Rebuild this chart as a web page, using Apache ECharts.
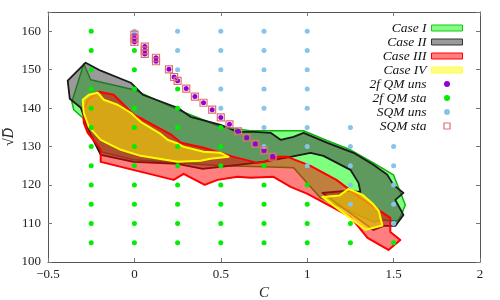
<!DOCTYPE html>
<html><head><meta charset="utf-8">
<script src="https://cdn.jsdelivr.net/npm/echarts@6/dist/echarts.min.js"></script>
<style>html,body{margin:0;padding:0;background:#fff}#c{width:500px;height:300px}</style>
</head><body><div id="c"></div>
<script>
// ---- data (C, sqrt(D)) ----
const caseI = [[
  [-0.362,141.67],[-0.293,151.56],[-0.253,147.40],[-0.004,144.80],[0.250,139.60],[0.499,135.16],
  [0.672,134.11],[0.979,134.11],[1.117,131.51],[1.250,129.17],[1.383,125.78],[1.499,122.66],
  [1.568,114.84],[1.539,111.72],[1.522,110.68],[1.441,110.94],[1.383,110.42],[1.077,116.67],
  [0.921,124.48],[0.747,124.74],[0.499,125.00],[0.250,125.78],[-0.004,126.56],[-0.195,128.65],
  [-0.270,134.38],[-0.299,137.50],[-0.351,139.58]
]];
const caseII = [[
  [-0.386,147.14],[-0.282,151.82],[-0.195,149.74],[-0.021,146.61],[0.048,143.49],[0.250,140.10],
  [0.325,137.76],[0.499,135.68],[0.597,133.85],[0.690,133.85],[0.788,133.59],[0.846,131.77],
  [0.921,132.55],[0.979,133.59],[1.117,130.99],[1.268,128.39],[1.383,125.26],[1.464,122.66],
  [1.499,120.05],[1.557,117.97],[1.510,116.15],[1.557,112.24],[1.510,109.38],[1.441,109.38],
  [1.383,108.33],[1.088,117.97],[1.222,118.50],[1.308,118.23],[1.297,120.57],[1.250,123.96],
  [1.094,127.60],[1.019,128.39],[0.904,127.34],[0.747,126.04],[0.499,124.74],[0.395,124.22],
  [0.250,125.52],[-0.004,126.04],[-0.195,127.86],[-0.253,133.07],[-0.270,134.90],[-0.310,140.10],
  [-0.374,142.45]
]];
const caseIII = [[
  [-0.206,144.27],[-0.120,143.49],[-0.091,142.19],[-0.004,138.28],[0.054,136.98],[0.210,133.20],
  [0.270,131.00],[0.401,129.69],[0.574,127.34],[0.713,125.78],[0.747,126.04],[0.829,127.34],
  [0.886,127.34],[1.019,125.00],[1.169,121.35],[1.308,116.67],[1.481,111.46],[1.481,107.81],
  [1.539,105.73],[1.470,103.13],[1.349,106.25],[1.250,111.72],[1.002,117.71],[0.904,119.53],
  [0.805,122.14],[0.672,121.88],[0.597,122.14],[0.481,121.35],[0.407,120.05],[0.285,122.92],
  [0.227,121.35],[-0.195,126.04],[-0.195,129.17],[-0.206,129.95],[-0.270,133.59],[-0.293,136.20],
  [-0.293,139.58],[-0.270,142.19]
]];
const caseIV = [[
  [-0.212,144.01],[-0.177,142.19],[-0.097,140.89],[-0.021,138.80],[0.036,136.46],[0.094,134.90],
  [0.152,133.30],[0.192,131.80],[0.250,130.80],[0.285,129.95],[0.401,128.65],[0.499,128.39],
  [0.545,127.34],[0.441,126.82],[0.383,126.30],[0.250,126.04],[0.036,127.60],[-0.079,129.17],
  [-0.195,131.77],[-0.264,135.16],[-0.293,138.80],[-0.299,142.19],[-0.264,143.49]
],[
  [1.088,116.93],[1.187,117.30],[1.239,119.01],[1.320,117.45],[1.376,115.30],[1.415,113.20],
  [1.435,109.50],[1.337,108.40]
]];
const qmUns = [[0,159.1],[0,158.1],[0,157.2],[0.06,156.0],[0.06,155.0],[0.06,154.1],[0.125,153.1],
  [0.125,152.2],[0.2,150.1],[0.23,148.1],[0.25,147.1],[0.3,145.1],[0.35,143.0],[0.4,141.4],
  [0.45,139.6],[0.5,137.6],[0.55,135.8],[0.6,134.0],[0.65,132.3],[0.7,130.7],[0.75,129.0],[0.8,127.4]];
const qmSta = [
  [-0.25,105],[-0.25,110],[-0.25,115],[-0.25,120],[-0.25,125],[-0.25,130],[-0.25,135],[-0.25,140],[-0.25,145],[-0.25,150],[-0.25,155],[-0.25,160],
  [0,105],[0,110],[0,115],[0,120],[0,125],[0,130],[0,135],[0,140],[0,145],[0,150],[0,155],
  [0.25,105],[0.25,110],[0.25,115],[0.25,120],[0.25,125],[0.25,130],[0.25,135],[0.25,140],[0.25,145],
  [0.5,105],[0.5,110],[0.5,115],[0.5,120],[0.5,125],[0.5,130],[0.5,135],
  [0.75,105],[0.75,110],[0.75,115],[0.75,120],[0.75,125],
  [1,105],[1,110],[1,115],[1,120],
  [1.25,105],[1.25,110],
  [1.5,105]
];
const sqmUns = [
  [0,160],
  [0.25,150],[0.25,155],[0.25,160],
  [0.5,140],[0.5,145],[0.5,150],[0.5,155],[0.5,160],
  [0.75,130],[0.75,135],[0.75,140],[0.75,145],[0.75,150],[0.75,155],[0.75,160],
  [1,125],[1,130],[1,135],[1,140],[1,145],[1,150],[1,155],[1,160],
  [1.25,115],[1.25,120],[1.25,125],[1.25,130],[1.25,135],
  [1.5,110],[1.5,115],[1.5,120],[1.5,125],[1.5,130]
];
const sqmSta = [[0,159.1],[0,158.1],[0,157.2],[0.06,156.0],[0.06,155.0],[0.06,154.1],[0.125,153.1],
  [0.125,152.2],[0.2,150.1],[0.23,148.1],[0.25,147.1],[0.3,145.1],[0.35,143.0],[0.4,141.4],
  [0.45,139.6],[0.5,137.6],[0.55,135.8],[0.6,134.0],[0.65,132.3],[0.7,130.7],[0.75,129.0],[0.8,127.4]];
const xTicks = {min:-0.5, max:2, interval:0.5};
const yTicks = {min:100, max:165, interval:10};

// ---- styles ----
const ST = {
  'Case I':   {fill:'rgba(0,255,0,0.5)',   stroke:'#10b010', lw:1.5},
  'Case II':  {fill:'rgba(64,64,64,0.53)', stroke:'#1a1a1a', lw:1.8},
  'Case III': {fill:'rgba(255,0,0,0.5)',   stroke:'#ff0000', lw:2},
  'Case IV':  {fill:'rgba(255,255,0,0.5)', stroke:'#ffff00', lw:2}
};
function polySeries(name, polys){
  const s = ST[name];
  return {
    name, type:'custom', coordinateSystem:'cartesian2d', xAxisIndex:0, yAxisIndex:0,
    itemStyle:{color:s.fill, borderColor:s.stroke, borderWidth:1},
    data: polys.map((p,i)=>[p[0][0], p[0][1], i]),
    encode:{x:0, y:1},
    renderItem(params, api){
      const poly = polys[api.value(2)];
      return {
        type:'polygon',
        shape:{points: poly.map(v=>api.coord(v))},
        style:{fill:s.fill, stroke:s.stroke, lineWidth:s.lw, lineJoin:'round'},
        silent:true
      };
    }
  };
}
const serif = 'Liberation Serif';
const axisCommon = {
  axisLine:{show:true, onZero:false, lineStyle:{color:'#555', width:1}},
  axisTick:{show:true, inside:true, length:4, lineStyle:{color:'#777'}},
  splitLine:{show:false}
};
const chart = echarts.init(document.getElementById('c'), null, {renderer:'canvas'});
chart.setOption({
  animation:false,
  backgroundColor:'#fff',
  grid:{left:48, right:20, top:12, bottom:38, containLabel:false, outerBoundsMode:'none'},
  xAxis:[
    Object.assign({type:'value', position:'bottom', min:xTicks.min, max:xTicks.max, interval:xTicks.interval,
      axisLabel:{fontFamily:serif, fontSize:13, color:'#222', margin:6,
        formatter:v=> v<0 ? '\u2212'+Math.abs(v) : String(v)},
      name:'C', nameLocation:'middle', nameGap:23,
      nameTextStyle:{fontFamily:serif, fontStyle:'italic', fontSize:15, color:'#222'}}, axisCommon),
    Object.assign({type:'value', position:'top', min:xTicks.min, max:xTicks.max, interval:xTicks.interval,
      axisLabel:{show:false}}, axisCommon)
  ],
  yAxis:[
    Object.assign({type:'value', position:'left', min:yTicks.min, max:yTicks.max, interval:yTicks.interval,
      axisLabel:{fontFamily:serif, fontSize:13, color:'#222', margin:7,
        formatter:v=> v>160 ? '' : String(v)},
      name:'\u221AD\u0305', nameLocation:'middle', nameGap:32, nameRotate:90, nameMoveOverlap:false,
      nameTextStyle:{fontFamily:serif, fontStyle:'italic', fontSize:14, color:'#222'}}, axisCommon),
    Object.assign({type:'value', position:'right', min:yTicks.min, max:yTicks.max, interval:yTicks.interval,
      axisLabel:{show:false}}, axisCommon)
  ],
  legend:{
    orient:'vertical', right:32, top:16, align:'right',
    itemWidth:31, itemHeight:6, itemGap:0,
    textStyle:{fontFamily:serif, fontStyle:'italic', fontSize:13.5, color:'#111', lineHeight:11.5},
    data:[
      {name:'Case I', icon:'rect', itemStyle:{color:ST['Case I'].fill, borderColor:'#20c020', borderWidth:1}},
      {name:'Case II', icon:'rect', itemStyle:{color:ST['Case II'].fill, borderColor:'#333', borderWidth:1}},
      {name:'Case III', icon:'rect', itemStyle:{color:ST['Case III'].fill, borderColor:'#ff0000', borderWidth:1}},
      {name:'Case IV', icon:'rect', itemStyle:{color:ST['Case IV'].fill, borderColor:'#ffff40', borderWidth:1}},
      {name:'2f QM uns', icon:'circle', itemStyle:{color:'#9400d3', borderWidth:0}},
      {name:'2f QM sta', icon:'circle', itemStyle:{color:'#00ee00', borderWidth:0}},
      {name:'SQM uns', icon:'circle', itemStyle:{color:'#87c4ea', borderWidth:0}},
      {name:'SQM sta', icon:'path://M0 0H10V10H0Z', itemStyle:{color:'rgba(0,0,0,0)', borderColor:'#e07070', borderWidth:1.2}}
    ]
  },
  series:[
    polySeries('Case I', caseI),
    polySeries('Case II', caseII),
    polySeries('Case III', caseIII),
    polySeries('Case IV', caseIV),
    {name:'2f QM uns', type:'scatter', symbol:'circle', symbolSize:5, data:qmUns,
      itemStyle:{color:'#9400d3', opacity:1}},
    {name:'2f QM sta', type:'scatter', symbol:'circle', symbolSize:5, data:qmSta,
      itemStyle:{color:'#00ee00', opacity:1}},
    {name:'SQM uns', type:'scatter', symbol:'circle', symbolSize:5, data:sqmUns,
      itemStyle:{color:'#87c4ea', opacity:1}},
    {name:'SQM sta', type:'scatter', symbol:'rect', symbolSize:7, data:sqmSta,
      itemStyle:{color:'rgba(0,0,0,0)', borderColor:'#e07070', borderWidth:1.2, opacity:1}}
  ]
});
</script>
</body></html>
